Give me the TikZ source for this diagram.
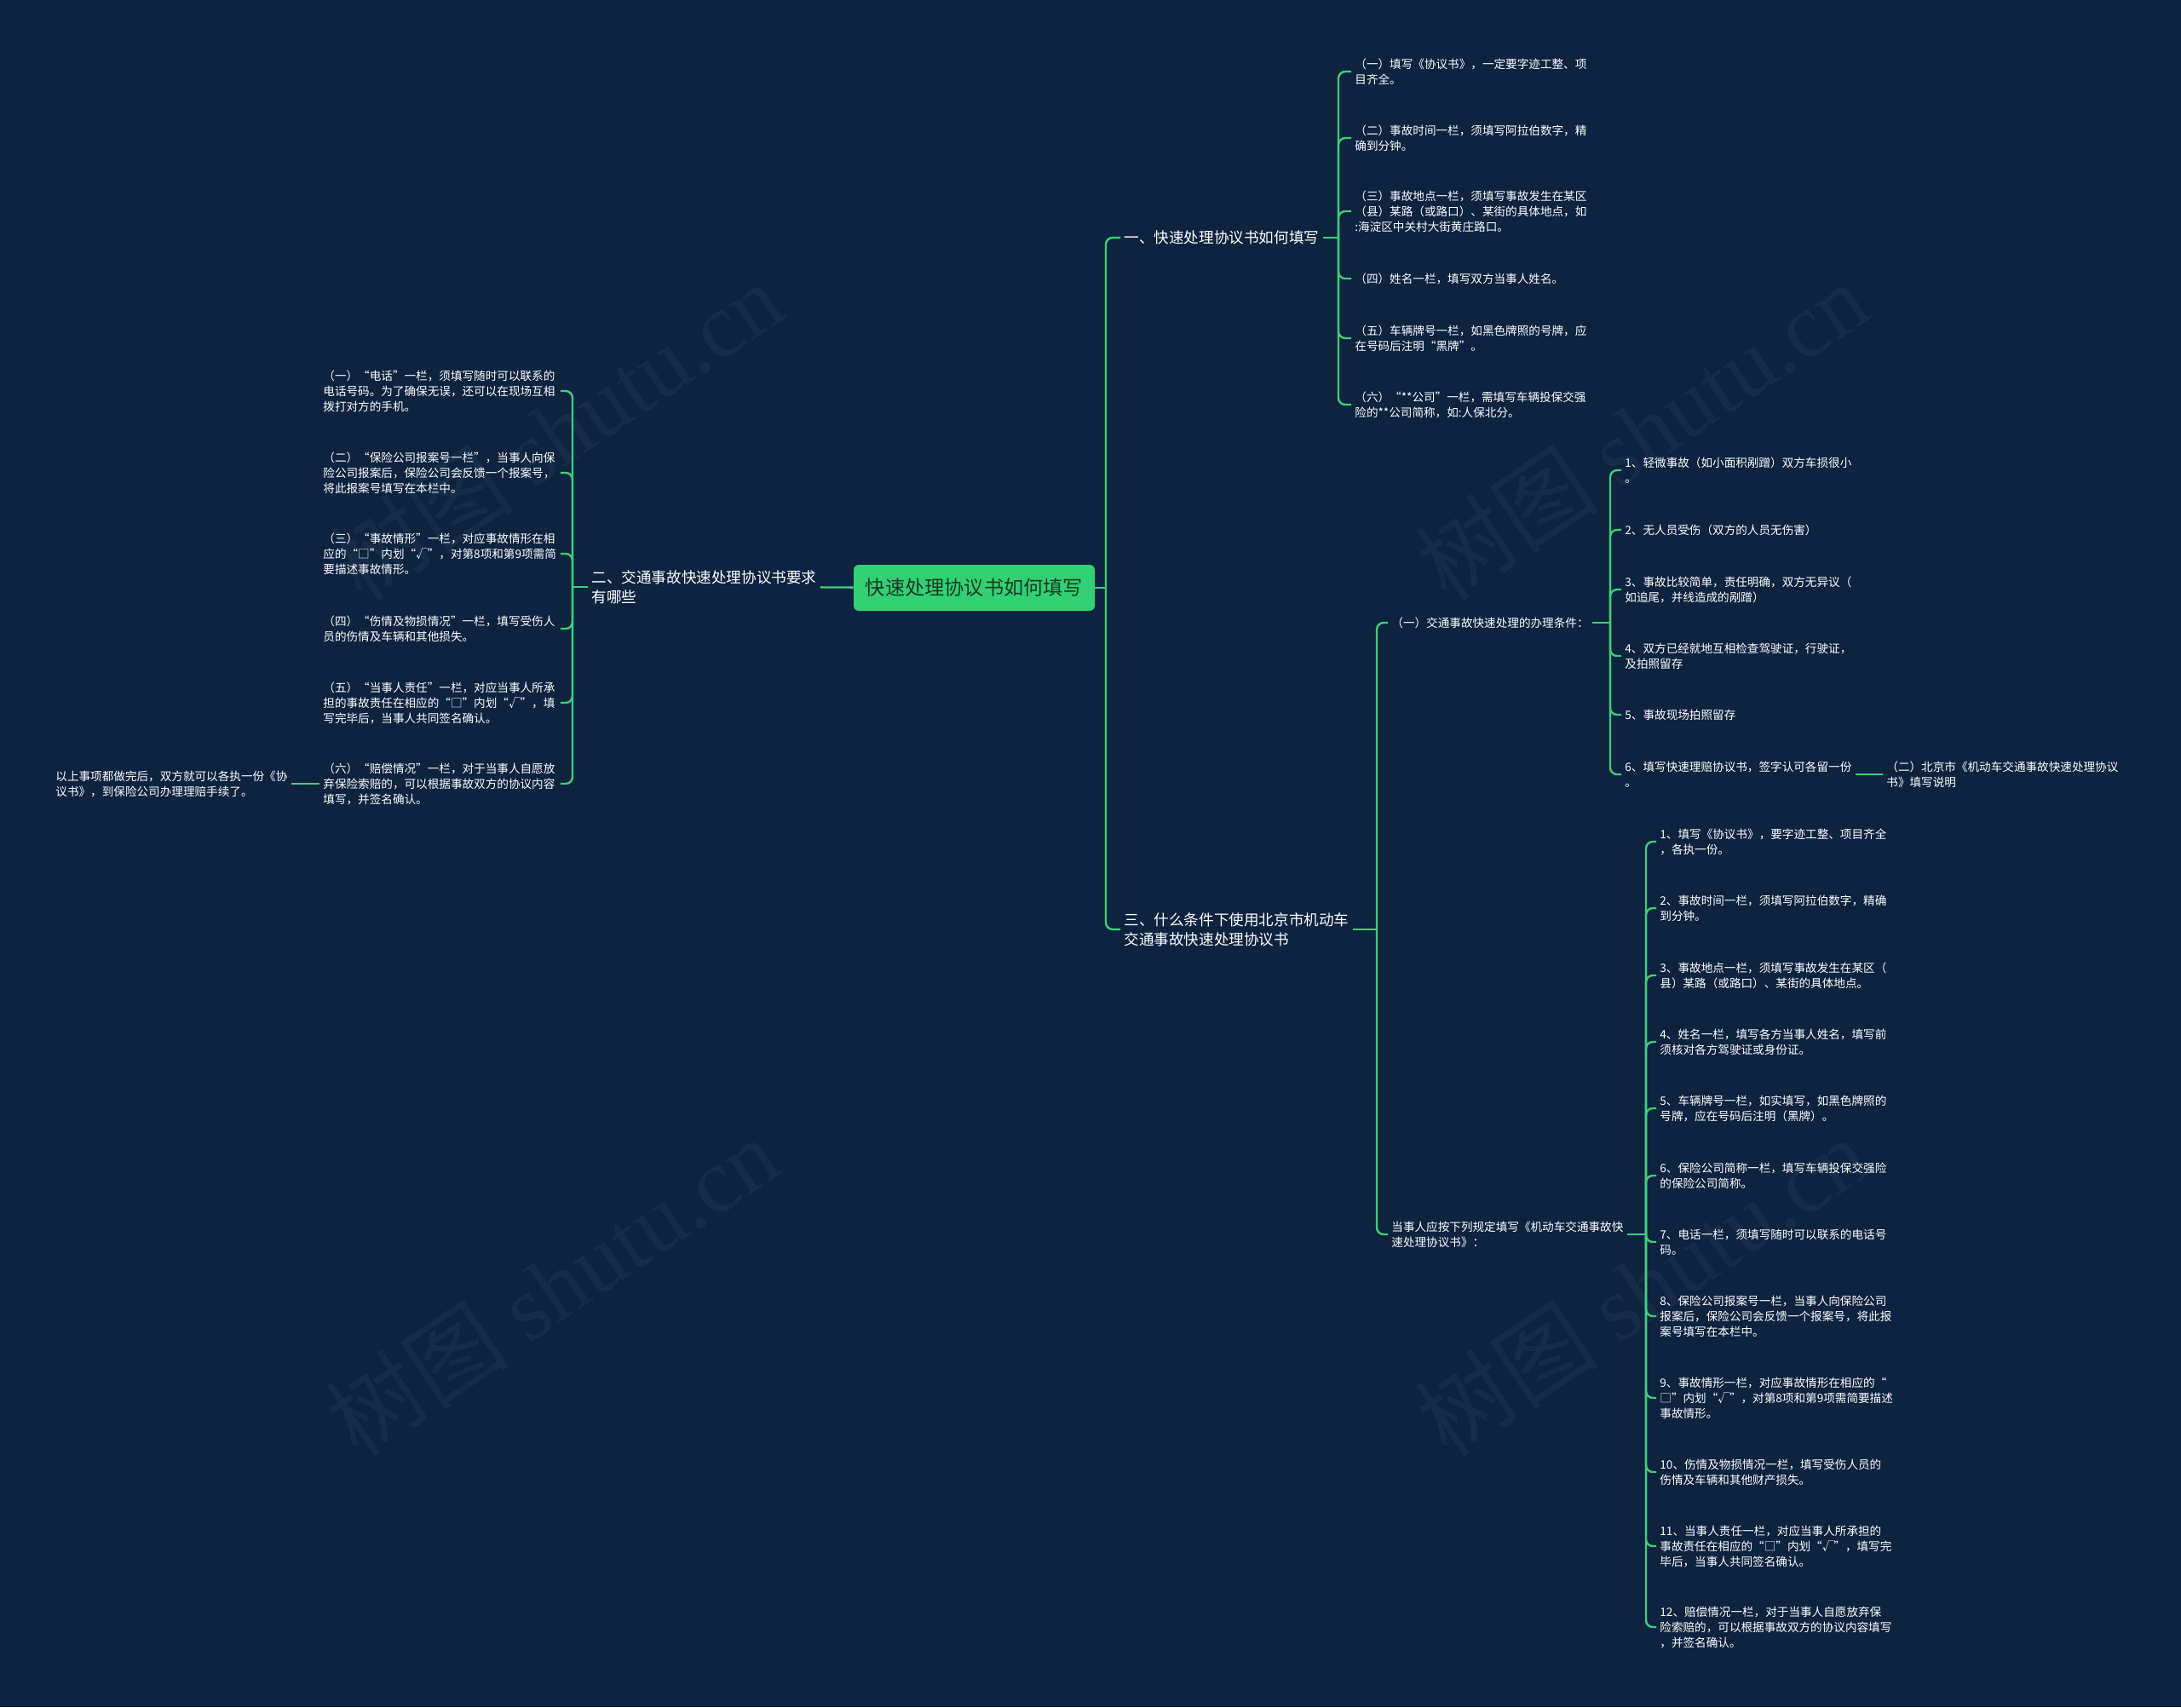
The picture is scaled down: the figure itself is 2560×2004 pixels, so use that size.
\documentclass[tikz,border=0pt]{standalone}
\usepackage{fontspec}
\setmainfont{Noto Sans CJK SC}
\newfontfamily\wmserif{Liberation Serif}
\usepackage{tikz}
\definecolor{bgnavy}{RGB}{13,35,64}
\definecolor{linegreen}{RGB}{62,207,120}
\definecolor{rootgreen}{RGB}{50,208,115}
\definecolor{roottext}{RGB}{20,58,36}
\definecolor{wmgray}{RGB}{22,44,72}

\begin{document}
\begin{tikzpicture}[
  x=0.5pt,y=-0.5pt,
  rootbox/.style={fill=rootgreen,rounded corners=3pt,minimum width=141.5pt,
    minimum height=27pt,text=roottext,font=\fontsize{11.6pt}{14pt}\selectfont},
  topic/.style={anchor=west,align=left,text=white,inner xsep=2pt,inner ysep=1pt,
    font=\fontsize{8.8pt}{11.4pt}\selectfont},
  leaf/.style={anchor=west,align=left,text=white,inner xsep=2pt,inner ysep=1pt,
    font=\fontsize{6.8pt}{9pt}\selectfont},
  leftleaf/.style={leaf,text width=137pt},
  link/.style={draw=linegreen,line width=1.2pt,rounded corners=4pt},
  wmark/.style={text=wmgray,font=\fontsize{54pt}{54pt}\selectfont,rotate=34,inner sep=0pt},
]
  \useasboundingbox[fill=bgnavy] (0,0) rectangle (2560,2004);

  \node[wmark] (wm1) at (653,506) {树图 {\wmserif shutu.cn}};
  \node[wmark] (wm2) at (648,1510) {树图 {\wmserif shutu.cn}};
  \node[wmark] (wm3) at (1927,506) {树图 {\wmserif shutu.cn}};
  \node[wmark] (wm4) at (1927,1510) {树图 {\wmserif shutu.cn}};

  \node[rootbox] (root) at (1143.5,690) {快速处理协议书如何填写};

  \node[topic] (secA) at (1315,279) {一、快速处理协议书如何填写};
  \node[topic] (secB) at (690,689) {二、交通事故快速处理协议书要求\\有哪些};
  \node[topic] (secC) at (1315,1091) {三、什么条件下使用北京市机动车\\交通事故快速处理协议书};

  \coordinate (jR) at (1298,690);
  \coordinate (jA) at (1571,279);
  \coordinate (jB) at (672,689);
  \coordinate (jC) at (1616,1091);

  \draw[link] (root) -- (jR);
  \draw[link] (jR) |- (secA);
  \draw[link] (jR) |- (secC);
  \draw[link] (root) -- (secB);

  % 一
  \node[leaf] (a1) at (1586,84) {（一）填写《协议书》，一定要字迹工整、项\\目齐全。};
  \node[leaf] (a2) at (1586,162) {（二）事故时间一栏，须填写阿拉伯数字，精\\确到分钟。};
  \node[leaf] (a3) at (1586,248) {（三）事故地点一栏，须填写事故发生在某区\\（县）某路（或路口）、某街的具体地点，如\\:海淀区中关村大街黄庄路口。};
  \node[leaf] (a4) at (1586,327) {（四）姓名一栏，填写双方当事人姓名。};
  \node[leaf] (a5) at (1586,397) {（五）车辆牌号一栏，如黑色牌照的号牌，应\\在号码后注明“黑牌”。};
  \node[leaf] (a6) at (1586,475) {（六）“**公司”一栏，需填写车辆投保交强\\险的**公司简称，如:人保北分。};

  \draw[link] (secA) -- (jA);
  \foreach \n in {a1,a2,a3,a4,a5,a6}
    \draw[link] (jA) |- (\n);

  % 二
  \node[leftleaf] (b1) at (375,459) {（一）“电话”一栏，须填写随时可以联系的\\电话号码。为了确保无误，还可以在现场互相\\拨打对方的手机。};
  \node[leftleaf] (b2) at (375,555) {（二）“保险公司报案号一栏”，当事人向保\\险公司报案后，保险公司会反馈一个报案号，\\将此报案号填写在本栏中。};
  \node[leftleaf] (b3) at (375,650) {（三）“事故情形”一栏，对应事故情形在相\\应的“□”内划“√”，对第8项和第9项需简\\要描述事故情形。};
  \node[leftleaf] (b4) at (375,738) {（四）“伤情及物损情况”一栏，填写受伤人\\员的伤情及车辆和其他损失。};
  \node[leftleaf] (b5) at (375,825) {（五）“当事人责任”一栏，对应当事人所承\\担的事故责任在相应的“□”内划“√”，填\\写完毕后，当事人共同签名确认。};
  \node[leftleaf] (b6) at (375,920) {（六）“赔偿情况”一栏，对于当事人自愿放\\弃保险索赔的，可以根据事故双方的协议内容\\填写，并签名确认。};
  \node[leaf] (bnote) at (61,920) {以上事项都做完后，双方就可以各执一份《协\\议书》，到保险公司办理理赔手续了。};

  \draw[link] (secB) -- (jB);
  \foreach \n in {b1,b2,b3,b4,b5,b6}
    \draw[link] (jB) |- (\n);
  \draw[link] (b6) -- (bnote);

  % 三
  \node[leaf] (cond) at (1629,731) {（一）交通事故快速处理的办理条件：};
  \node[leaf] (rule) at (1629,1449) {当事人应按下列规定填写《机动车交通事故快\\速处理协议书》：};

  \draw[link] (secC) -- (jC);
  \draw[link] (jC) |- (cond);
  \draw[link] (jC) |- (rule);

  \coordinate (jcond) at (1890,731);
  \node[leaf] (c1) at (1903,552) {1、轻微事故（如小面积剐蹭）双方车损很小\\。};
  \node[leaf] (c2) at (1903,622) {2、无人员受伤（双方的人员无伤害）};
  \node[leaf] (c3) at (1903,692) {3、事故比较简单，责任明确，双方无异议（\\如追尾，并线造成的剐蹭）};
  \node[leaf] (c4) at (1903,770) {4、双方已经就地互相检查驾驶证，行驶证，\\及拍照留存};
  \node[leaf] (c5) at (1903,839) {5、事故现场拍照留存};
  \node[leaf] (c6) at (1903,909) {6、填写快速理赔协议书，签字认可各留一份\\。};
  \node[leaf] (c7) at (2210,909) {（二）北京市《机动车交通事故快速处理协议\\书》填写说明};

  \draw[link] (cond) -- (jcond);
  \foreach \n in {c1,c2,c3,c4,c5,c6}
    \draw[link] (jcond) |- (\n);
  \draw[link] (c6) -- (c7);

  \coordinate (jrule) at (1932,1449);
  \node[leaf] (r1) at (1944,988) {1、填写《协议书》，要字迹工整、项目齐全\\，各执一份。};
  \node[leaf] (r2) at (1944,1066) {2、事故时间一栏，须填写阿拉伯数字，精确\\到分钟。};
  \node[leaf] (r3) at (1944,1145) {3、事故地点一栏，须填写事故发生在某区（\\县）某路（或路口）、某街的具体地点。};
  \node[leaf] (r4) at (1944,1223) {4、姓名一栏，填写各方当事人姓名，填写前\\须核对各方驾驶证或身份证。};
  \node[leaf] (r5) at (1944,1301) {5、车辆牌号一栏，如实填写，如黑色牌照的\\号牌，应在号码后注明（黑牌）。};
  \node[leaf] (r6) at (1944,1380) {6、保险公司简称一栏，填写车辆投保交强险\\的保险公司简称。};
  \node[leaf] (r7) at (1944,1458) {7、电话一栏，须填写随时可以联系的电话号\\码。};
  \node[leaf] (r8) at (1944,1545) {8、保险公司报案号一栏，当事人向保险公司\\报案后，保险公司会反馈一个报案号，将此报\\案号填写在本栏中。};
  \node[leaf] (r9) at (1944,1641) {9、事故情形一栏，对应事故情形在相应的“\\□”内划“√”，对第8项和第9项需简要描述\\事故情形。};
  \node[leaf] (r10) at (1944,1728) {10、伤情及物损情况一栏，填写受伤人员的\\伤情及车辆和其他财产损失。};
  \node[leaf] (r11) at (1944,1815) {11、当事人责任一栏，对应当事人所承担的\\事故责任在相应的“□”内划“√”，填写完\\毕后，当事人共同签名确认。};
  \node[leaf] (r12) at (1944,1910) {12、赔偿情况一栏，对于当事人自愿放弃保\\险索赔的，可以根据事故双方的协议内容填写\\，并签名确认。};

  \draw[link] (rule) -- (jrule);
  \foreach \n in {r1,r2,r3,r4,r5,r6,r7,r8,r9,r10,r11,r12}
    \draw[link] (jrule) |- (\n);
\end{tikzpicture}
\end{document}
